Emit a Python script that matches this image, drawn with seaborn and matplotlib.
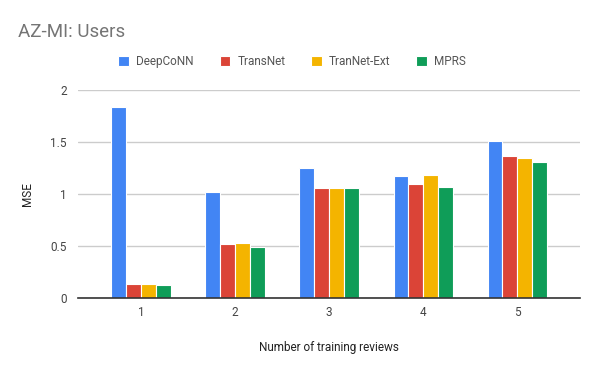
import pandas as pd
import matplotlib
matplotlib.use("Agg")
import matplotlib.pyplot as plt
import seaborn as sns

# Datos
reviews = ["1", "2", "3", "4", "5"]
modelos = ["DeepCoNN", "TransNet", "TranNet-Ext", "MPRS"]
deepconn = [1.836, 1.019, 1.250, 1.173, 1.510]
transnet = [0.137, 0.519, 1.058, 1.096, 1.365]
trannet_ext = [0.137, 0.529, 1.058, 1.183, 1.346]
mprs = [0.125, 0.493, 1.058, 1.067, 1.308]
colores = ["#4285F4", "#DB4437", "#F4B400", "#0F9D58"]

filas = []
for nombre, valores in zip(modelos, [deepconn, transnet, trannet_ext, mprs]):
    for r, v in zip(reviews, valores):
        filas.append({"reviews": r, "modelo": nombre, "mse": v})
df = pd.DataFrame(filas)

sns.set_style("white")
plt.rcParams["font.family"] = ["Roboto", "DejaVu Sans"]

fig = plt.figure(figsize=(6, 3.71), dpi=100)
ax = fig.add_axes([0.13, 0.197, 0.837, 0.56])

sns.barplot(data=df, x="reviews", y="mse", hue="modelo", hue_order=modelos,
            palette=colores, width=0.63, ax=ax, edgecolor="white", linewidth=0.8,
            saturation=1, legend=True)

ax.set_ylim(0, 2)
ax.set_xlim(-0.67, 4.67)
ax.set_yticks([0, 0.5, 1, 1.5, 2])
ax.set_yticklabels(["0", "0.5", "1", "1.5", "2"])
ax.yaxis.grid(True, color="#cccccc", linewidth=1)
ax.set_axisbelow(True)
for s in ["top", "right", "left"]:
    ax.spines[s].set_visible(False)
ax.spines["bottom"].set_color("#333333")
ax.spines["bottom"].set_linewidth(1.2)
ax.tick_params(axis="both", length=0, labelsize=8.5, labelcolor="#444444")
ax.tick_params(axis="y", pad=8)
ax.tick_params(axis="x", pad=6)

ax.set_xlabel("Number of training reviews", fontsize=8.5, color="#222222", labelpad=16)
ax.set_ylabel("MSE", fontsize=8.5, color="#222222", labelpad=12)

ax.get_legend().remove()
handles, labels = ax.get_legend_handles_labels()
fig.legend(handles[:4], labels[:4], loc="center", bbox_to_anchor=(0.487, 0.833),
           ncol=4, frameon=False, fontsize=8.5, handlelength=0.9, handleheight=0.9,
           columnspacing=2.2, handletextpad=0.6, labelcolor="#555555")

fig.text(0.03, 0.915, "AZ-MI: Users", fontsize=13.5, color="#757575", va="center")

plt.savefig("out.png", dpi=100)
